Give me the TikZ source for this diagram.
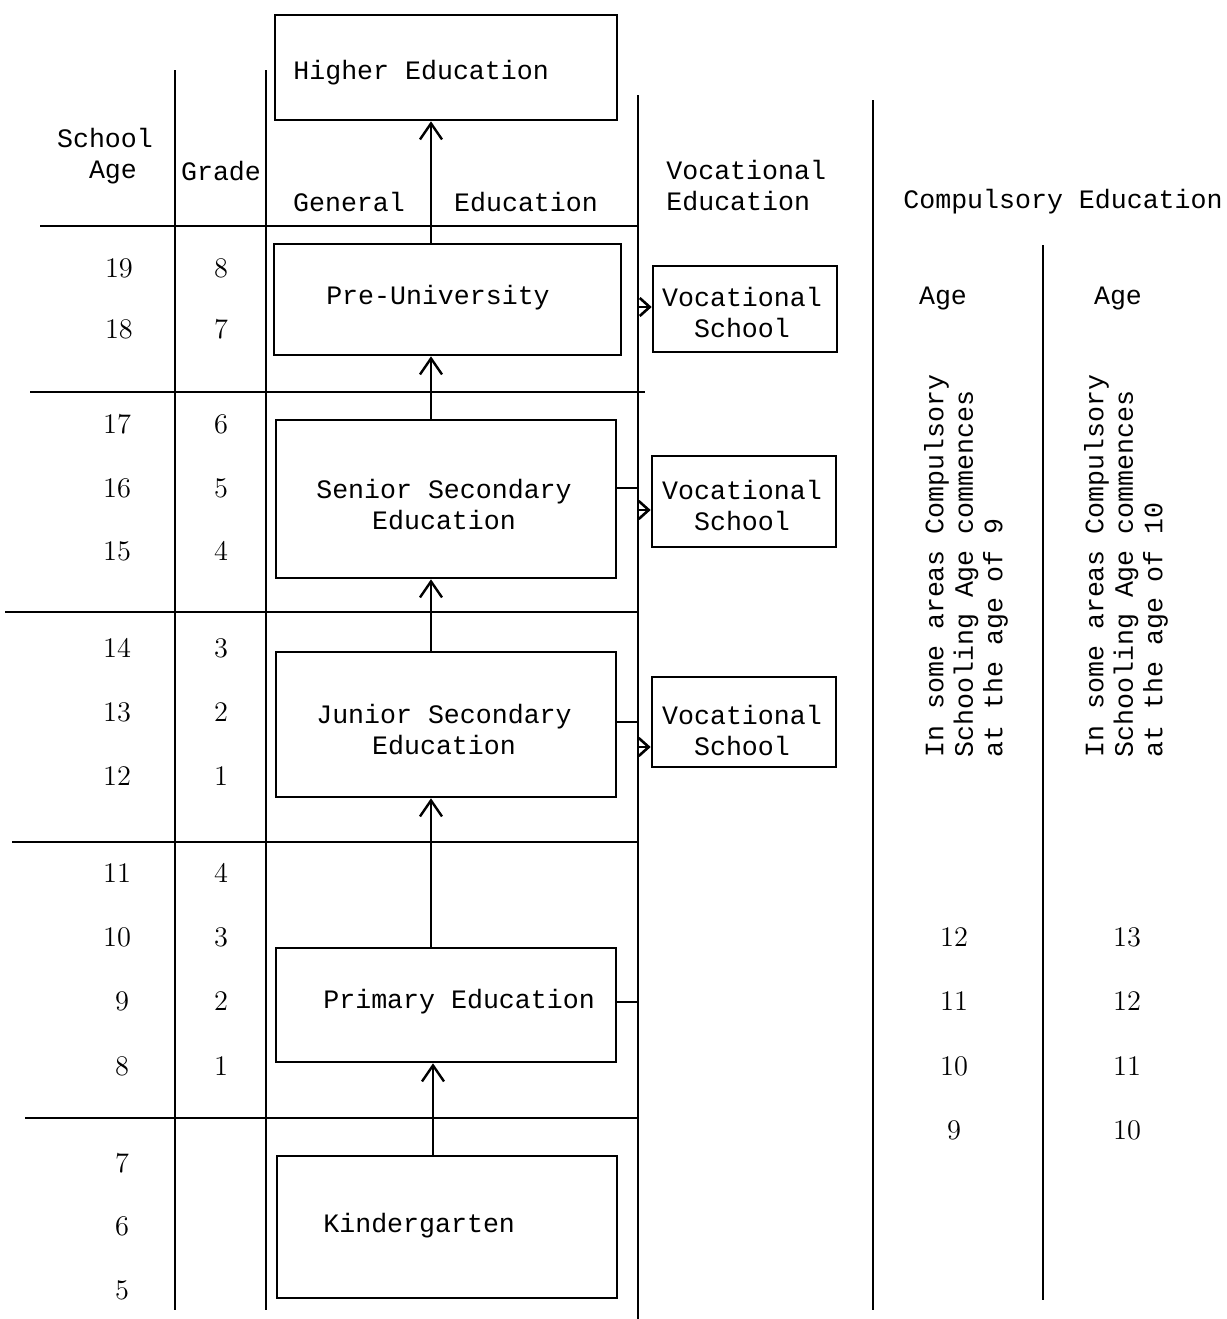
\documentclass[tikz,border=0pt]{standalone}
\usepackage{fontspec}
\newfontfamily\tw{Liberation Mono}
\usetikzlibrary{arrows.meta,fit}
\begin{document}
\begin{tikzpicture}[x=0.5pt,y=-0.5pt,
 rule/.style={line width=1.1pt},
 box/.style={draw,line width=1.3pt,inner sep=0pt},
 lbl/.style={font=\tw\fontsize{13.3}{15.5}\selectfont,inner sep=0pt,align=center},
 rlbl/.style={font=\tw\fontsize{13.3}{14.75}\selectfont,inner sep=0pt,align=left,rotate=90},
 num/.style={font=\fontsize{14.2}{16}\selectfont,inner sep=0pt},
 up/.style={line width=1.2pt,-{Straight Barb[length=8pt,width=11pt,line width=1.2pt]}},
 side/.style={line width=1.2pt,-{Straight Barb[length=5pt,width=9pt,line width=1.3pt]}}]
\useasboundingbox (0,0) rectangle (1227,1319);
% vertical rules
\draw[rule] (175,70) -- (175,1310);
\draw[rule] (266,70) -- (266,1310);
\draw[rule] (638,95) -- (638,1319);
\draw[rule] (873,100) -- (873,1310);
\draw[rule] (1043,245) -- (1043,1300);
% horizontal rules
\draw[rule] (40,226) -- (638,226);
\draw[rule] (30,392) -- (645,392);
\draw[rule] (5,612) -- (638,612);
\draw[rule] (12,842) -- (638,842);
\draw[rule] (25,1118) -- (638,1118);
% boxes
\node[box,fit={(275,15) (617,120)}] (he) {};
\node[box,fit={(274,244) (621,355)}] (pu) {};
\node[box,fit={(276,420) (616,578)}] (se) {};
\node[box,fit={(276,652) (616,797)}] (js) {};
\node[box,fit={(276,948) (616,1062)}] (pr) {};
\node[box,fit={(277,1156) (617,1298)}] (kg) {};
\node[box,fit={(653,266) (837,352)}] (vs1) {};
\node[box,fit={(652,456) (836,547)}] (vs2) {};
\node[box,fit={(652,677) (836,767)}] (vs3) {};
% box texts
\node[lbl,anchor=west] (heT) at (293,73) {Higher Education};
\node[lbl] (puT) at (438,298) {Pre-University};
\node[lbl] (seT) at (444,505) {Senior Secondary\\Education};
\node[lbl] (jsT) at (444,730) {Junior Secondary\\Education};
\node[lbl,anchor=west] (prT) at (323,1002) {Primary Education};
\node[lbl,anchor=west] (kgT) at (323,1226) {Kindergarten};
\node[lbl] (vs1T) at (742,312) {Vocational\\School};
\node[lbl] (vs2T) at (742,505) {Vocational\\School};
\node[lbl] (vs3T) at (742,730) {Vocational\\School};
% vertical arrows
\coordinate (ax) at (431,0);
\coordinate (bx) at (433,0);
\draw[up] (ax |- pu.north) -- (ax |- he.south);
\draw[up] (ax |- se.north) -- (ax |- pu.south);
\draw[up] (ax |- js.north) -- (ax |- se.south);
\draw[up] (ax |- pr.north) -- (ax |- js.south);
\draw[up] (bx |- kg.north) -- (bx |- pr.south);
% side connectors
\coordinate (c1) at (638,307);
\draw[side] (c1) -- (vs1.west |- c1);
\coordinate (c2a) at (638,488);
\coordinate (c2b) at (638,510);
\draw[rule] (se.east |- c2a) -- (c2a);
\draw[side] (c2b) -- (vs2.west |- c2b);
\coordinate (c3a) at (638,722);
\coordinate (c3b) at (638,747);
\draw[rule] (js.east |- c3a) -- (c3a);
\draw[side] (c3b) -- (vs3.west |- c3b);
\coordinate (c4) at (638,1002);
\draw[rule] (pr.east |- c4) -- (c4);
% headers
\node[lbl] (hSA) at (105,156) {School\\\ Age};
\node[lbl] (hGr) at (221,171) {Grade};
\node[lbl] (hGe) at (349,202) {General};
\node[lbl] (hEd) at (526,202) {Education};
\node[lbl,align=left,anchor=west] (hVE) at (666,186) {Vocational\\Education};
\node[lbl] (hCE) at (1063,202) {Compulsory Education};
\node[lbl] (hA1) at (943,298) {Age};
\node[lbl] (hA2) at (1118,298) {Age};
\node[rlbl] (r1) at (966,566) {In some areas Compulsory\\Schooling Age commences\\at the age of 9};
\node[rlbl] (r2) at (1126,566) {In some areas Compulsory\\Schooling Age commences\\at the age of 10};
% school ages
\foreach \v/\x/\y in {19/119/268,18/119/329,17/117/424,16/117/488,15/117/551,14/117/648,13/117/712,12/117/776,11/117/873,10/117/937,9/122/1001,8/122/1066,7/122/1163,6/122/1226,5/122/1290}
  \node[num] (sa\v) at (\x,\y) {\v};
% grades
\foreach \v/\y/\n in {8/268/a,7/329/b,6/424/c,5/488/d,4/551/e,3/648/f,2/712/g,1/776/h,4/873/i,3/937/j,2/1001/k,1/1066/l}
  \node[num] (gr\n) at (221,\y) {\v};
% compulsory ages
\foreach \v/\y/\n in {12/937/a,11/1001/b,10/1066/c,9/1130/d}
  \node[num] (ca\n) at (954,\y) {\v};
\foreach \v/\y/\n in {13/937/a,12/1001/b,11/1066/c,10/1130/d}
  \node[num] (cb\n) at (1127,\y) {\v};
\end{tikzpicture}
\end{document}
